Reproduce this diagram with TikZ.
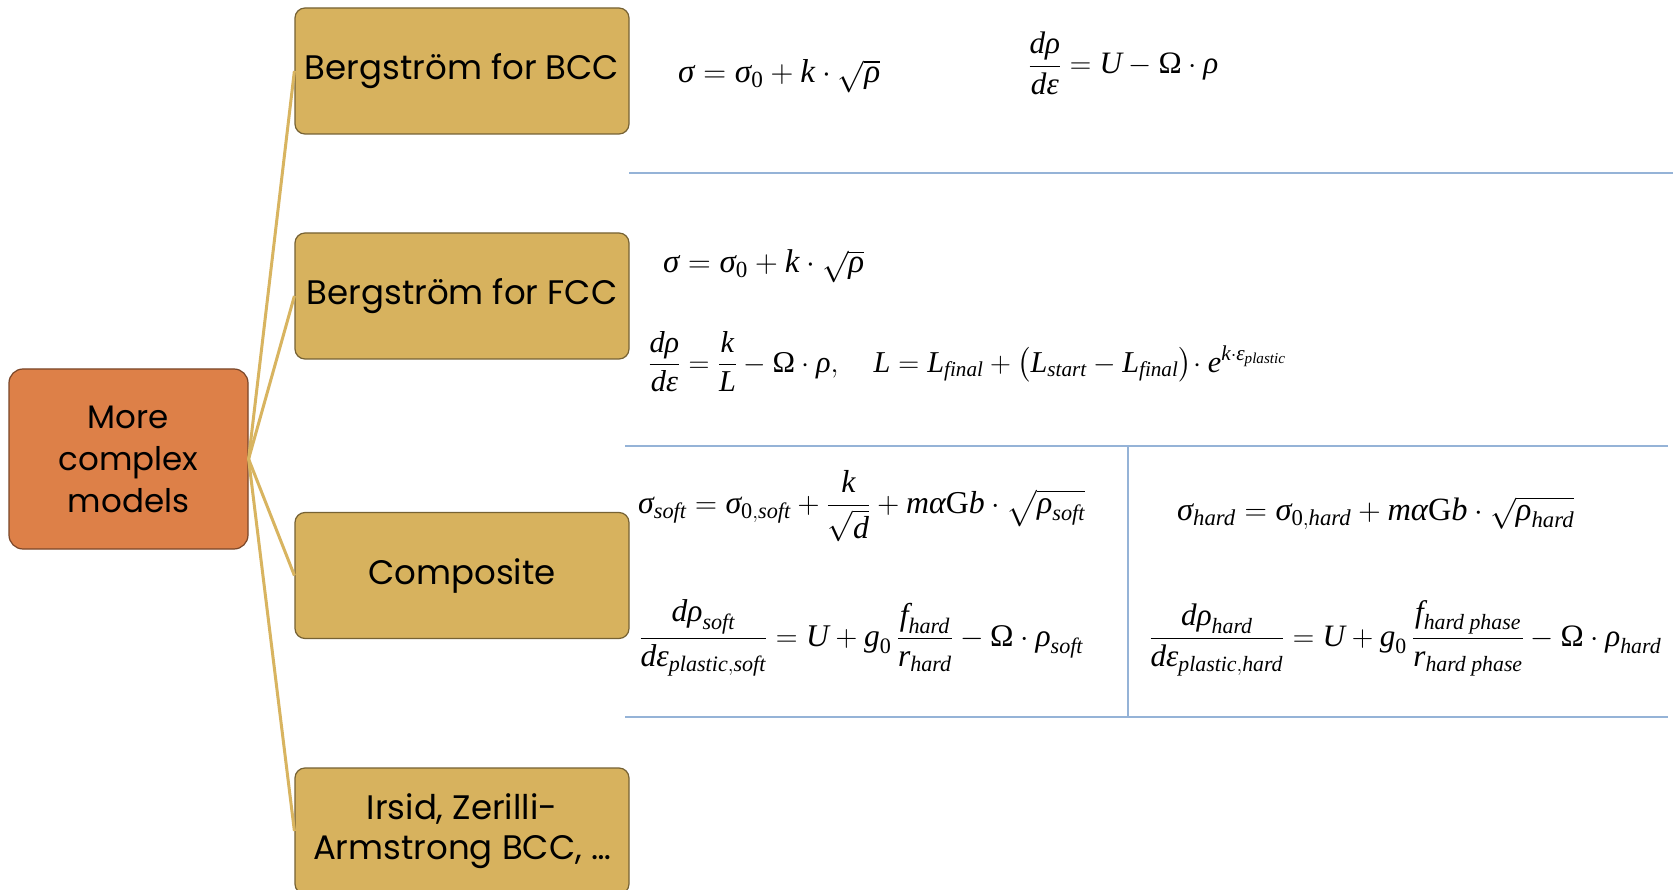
\documentclass[tikz,border=0pt]{standalone}
\usepackage{amsmath}
\usepackage{fontspec}
\usepackage{graphicx}
\setmainfont{Liberation Serif}
\newfontfamily\boxfont{Poppins}
\newcommand\ti[1]{\text{\normalfont\itshape #1}}
\newcommand\tu[1]{\text{\normalfont #1}}
\definecolor{goldfill}{RGB}{215,178,94}
\definecolor{goldline}{RGB}{216,180,96}
\definecolor{rootfill}{RGB}{221,128,72}
\definecolor{sepblue}{RGB}{149,179,215}
\tikzset{
  childbox/.style={draw=goldfill!55!black, line width=1.2pt, fill=goldfill, rounded corners=10pt,
    minimum width=334pt, minimum height=126pt, inner sep=0pt, align=center,
    font=\boxfont\fontsize{34}{40}\selectfont},
  rootbox/.style={draw=rootfill!55!black, line width=1.2pt, fill=rootfill, rounded corners=14pt,
    minimum width=239pt, minimum height=180pt, inner sep=0pt, align=center,
    font=\boxfont\fontsize{32.5}{42}\selectfont},
  link/.style={draw=goldline, line width=3pt},
  sep/.style={draw=sepblue, line width=1.8pt},
  eq/.style={anchor=base west, inner sep=0pt, font=\fontsize{26}{30}\selectfont}
}
\begin{document}
\begin{tikzpicture}[x=1pt,y=-1pt]
\clip (0,0) rectangle (1673,890);
\fill[white] (0,0) rectangle (1673,890);
\node[rootbox] (root) at (128.5,459) {More\\complex\\models};
\node[childbox] (bcc) at (462,71) {Bergström for BCC};
\node[childbox] (fcc) at (462,296) {Bergström for FCC};
\node[childbox] (comp) at (462,575.5) {Composite};
\node[childbox] (irs) at (462,831) {Irsid, Zerilli-\\Armstrong BCC, …};
\draw[link] (root.east) -- (bcc.west);
\draw[link] (root.east) -- (fcc.west);
\draw[link] (root.east) -- (comp.west);
\draw[link] (root.east) -- (irs.west);
% separators
\draw[sep] (629,173) -- (1673,173);
\draw[sep] (625,446) -- (1668,446);
\draw[sep] (625,717) -- (1668,717);
\draw[sep] (1128,446) -- (1128,717);
% equations
\node[eq] (e1) at (678,83) {\resizebox{202pt}{!}{$\ti{σ}=\ti{σ}_{\tu{0}}+\ti{k}\cdot\sqrt{\ti{ρ}}$}};
\node[eq] (e2) at (1028,74) {\resizebox{190pt}{!}{$\displaystyle\frac{\ti{dρ}}{\ti{dε}}=\ti{U}-\tu{Ω}\cdot\ti{ρ}$}};
\node[eq] (e3) at (663,273) {\resizebox{201pt}{!}{$\ti{σ}=\ti{σ}_{\tu{0}}+\ti{k}\cdot\sqrt{\ti{ρ}}$}};
\node[eq] (e4) at (648,372) {\resizebox{638pt}{!}{$\displaystyle\frac{\ti{dρ}}{\ti{dε}}=\frac{\ti{k}}{\ti{L}}-\tu{Ω}\cdot\ti{ρ},\quad \ti{L}=\ti{L}_{\ti{final}}+\left(\ti{L}_{\ti{start}}-\ti{L}_{\ti{final}}\right)\!\cdot \ti{e}^{\ti{k}\cdot\ti{ε}_{\ti{plastic}}}$}};
\node[eq] (e5) at (638,513) {\resizebox{447pt}{!}{$\displaystyle\ti{σ}_{\ti{soft}}=\ti{σ}_{\tu{0},\ti{soft}}+\frac{\ti{k}}{\sqrt{\ti{d}}}+\ti{mα}\tu{G}\ti{b}\cdot\sqrt{\ti{ρ}_{\ti{soft}}}$}};
\node[eq] (e6) at (639,646) {\resizebox{444pt}{!}{$\displaystyle\frac{\ti{dρ}_{\ti{soft}}}{\ti{dε}_{\ti{plastic},\ti{soft}}}=\ti{U}+\ti{g}_{\tu{0}}\,\frac{\ti{f}_{\ti{hard}}}{\ti{r}_{\ti{hard}}}-\tu{Ω}\cdot\ti{ρ}_{\ti{soft}}$}};
\node[eq] (e7) at (1177,520) {\resizebox{397pt}{!}{$\displaystyle\ti{σ}_{\ti{hard}}=\ti{σ}_{\tu{0},\ti{hard}}+\ti{mα}\tu{G}\ti{b}\cdot\sqrt{\ti{ρ}_{\ti{hard}}}$}};
\node[eq] (e8) at (1149,646) {\resizebox{512pt}{!}{$\displaystyle\frac{\ti{dρ}_{\ti{hard}}}{\ti{dε}_{\ti{plastic},\ti{hard}}}=\ti{U}+\ti{g}_{\tu{0}}\,\frac{\ti{f}_{\ti{hard phase}}}{\ti{r}_{\ti{hard phase}}}-\tu{Ω}\cdot\ti{ρ}_{\ti{hard}}$}};
\end{tikzpicture}
\end{document}
